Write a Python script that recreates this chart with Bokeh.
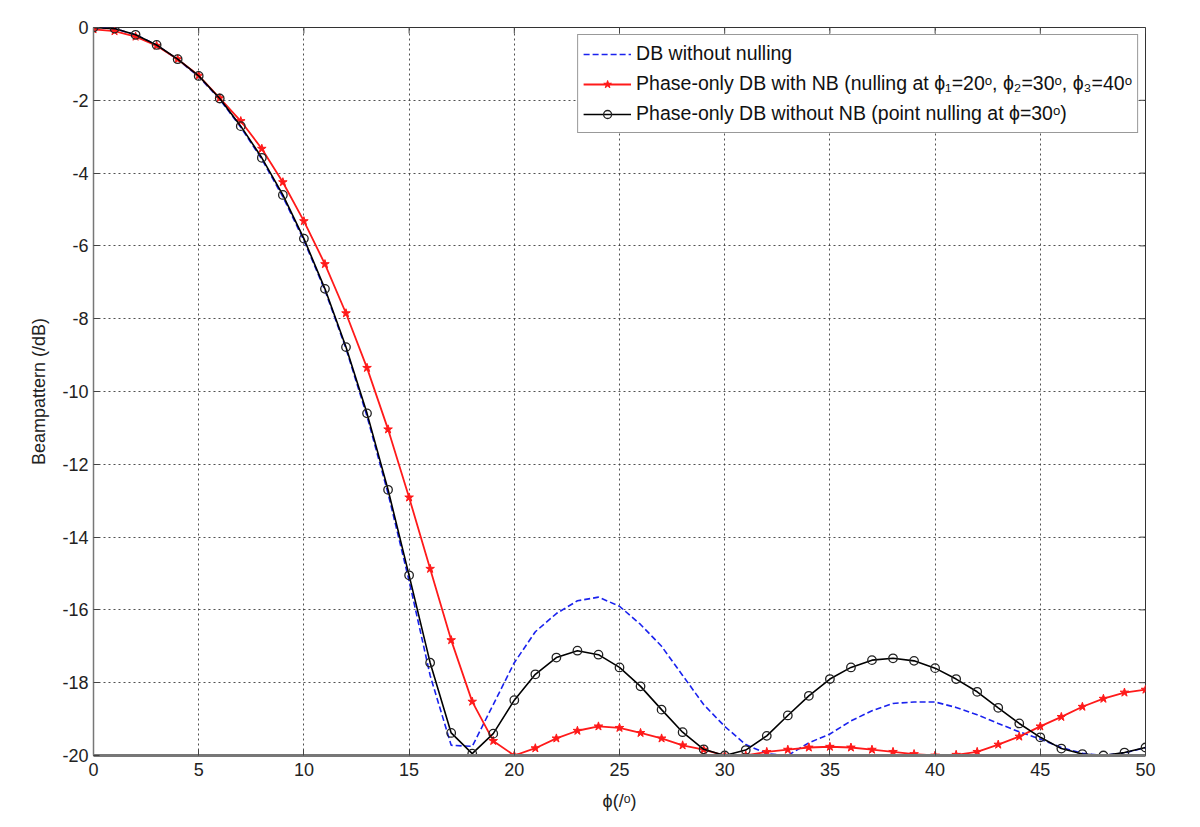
import math
from bokeh.plotting import figure
from bokeh.models import Legend, LegendItem, Range1d, FixedTicker
from bokeh.embed import file_html
from bokeh.resources import INLINE

phi = list(range(0, 51))

db_no_null = [0, -0.03, -0.2, -0.48, -0.88, -1.35, -1.97, -2.74, -3.62, -4.65,
              -5.85, -7.22, -8.82, -10.68, -12.8, -15.2, -17.8, -19.72, -19.75, -18.6,
              -17.45, -16.6, -16.1, -15.75, -15.65, -15.9, -16.4, -17.0, -17.8, -18.6,
              -19.2, -19.7, -19.95, -20.0, -19.65, -19.41, -19.05, -18.77, -18.57, -18.53,
              -18.53, -18.68, -18.88, -19.12, -19.35, -19.55, -19.78, -19.94, -20.0, -19.93,
              -19.78]

po_with_nb = [-0.05, -0.1, -0.25, -0.5, -0.87, -1.32, -1.94, -2.57, -3.33, -4.25,
              -5.32, -6.5, -7.85, -9.35, -11.04, -12.91, -14.87, -16.83, -18.52, -19.6,
              -20.0, -19.8, -19.53, -19.32, -19.2, -19.24, -19.38, -19.53, -19.72, -19.84,
              -20.0, -20.0, -19.9, -19.84, -19.78, -19.76, -19.78, -19.84, -19.9, -19.96,
              -20.0, -19.98, -19.9, -19.7, -19.48, -19.2, -18.94, -18.66, -18.44, -18.27,
              -18.19]

po_without_nb = [0, -0.03, -0.2, -0.48, -0.87, -1.33, -1.95, -2.71, -3.58, -4.6,
                 -5.8, -7.18, -8.78, -10.6, -12.7, -15.05, -17.45, -19.38, -19.95, -19.4,
                 -18.48, -17.77, -17.31, -17.12, -17.23, -17.58, -18.1, -18.74, -19.36, -19.83,
                 -20.0, -19.85, -19.46, -18.9, -18.36, -17.9, -17.58, -17.38, -17.33, -17.4,
                 -17.6, -17.9, -18.25, -18.69, -19.12, -19.5, -19.81, -19.96, -20.0, -19.92,
                 -19.78]

x_ticks = list(range(0, 51, 5))
y_ticks = list(range(-20, 1, 2))
x_min, x_max = 0, 50
y_min, y_max = -20, 0

labels = [
    "DB without nulling",
    "Phase-only DB with NB (nulling at \u03d5\u2081=20\u1d52, \u03d5\u2082=30\u1d52, \u03d5\u2083=40\u1d52",
    "Phase-only DB without NB (point nulling at \u03d5=30\u1d52)",
]

FONT = "Liberation Sans"

p = figure(width=1184, height=819, output_backend="svg", toolbar_location=None,
           x_range=Range1d(x_min, x_max), y_range=Range1d(y_min, y_max),
           min_border_left=93, min_border_right=39, min_border_top=27, min_border_bottom=64)

p.background_fill_color = "white"
p.border_fill_color = "white"
p.outline_line_color = "#333333"
p.outline_line_width = 1

for ax in (p.xaxis[0], p.yaxis[0]):
    ax.major_tick_in = 6
    ax.major_tick_out = 0
    ax.minor_tick_in = 0
    ax.minor_tick_out = 0
    ax.axis_line_color = "#777777"
    ax.major_tick_line_color = "#444444"
    ax.major_label_text_font = FONT
    ax.major_label_text_font_size = "18px"
    ax.major_label_text_color = "#222222"
    ax.axis_label_text_font = FONT
    ax.axis_label_text_font_size = "18px"
    ax.axis_label_text_font_style = "normal"
    ax.axis_label_text_color = "#222222"

p.xaxis[0].ticker = FixedTicker(ticks=x_ticks)
p.yaxis[0].ticker = FixedTicker(ticks=y_ticks)
p.yaxis[0].major_label_overrides = {t: str(t) for t in y_ticks}
p.xaxis[0].axis_line_width = 3
p.yaxis[0].axis_line_width = 1.5
p.xaxis[0].axis_label = "\u03d5(/\u1d52)"
p.yaxis[0].axis_label = "Beampattern (/dB)"
p.xaxis[0].major_label_standoff = 7
p.yaxis[0].major_label_standoff = 5
p.xaxis[0].axis_label_standoff = 12
p.yaxis[0].axis_label_standoff = 10

p.xgrid.ticker = FixedTicker(ticks=x_ticks)
p.ygrid.ticker = FixedTicker(ticks=y_ticks)
for g in (p.xgrid[0], p.ygrid[0]):
    g.grid_line_color = "#333333"
    g.grid_line_dash = "2 3"
    g.grid_line_width = 1
    g.grid_line_alpha = 0.85

# tick marks on the top and right edges of the box (half of each dash is clipped)
p.scatter(x_ticks, [y_max] * len(x_ticks), marker="dash", angle=math.pi / 2, size=12,
          line_color="#444444", line_width=1)
p.scatter([x_max] * len(y_ticks), y_ticks, marker="dash", size=12,
          line_color="#444444", line_width=1)

r_blue = p.line(phi, db_no_null, line_color="#1a22ee", line_width=1.6, line_dash="6 3")

r_red_line = p.line(phi, po_with_nb, line_color="#ff1a1a", line_width=1.8)
r_red_pts = p.scatter(phi, po_with_nb, marker="star", size=9, fill_color="#ff1a1a",
                      line_color="#ff1a1a")

r_blk_line = p.line(phi, po_without_nb, line_color="black", line_width=1.6)
r_blk_pts = p.scatter(phi, po_without_nb, marker="circle", size=8.5, fill_color=None,
                      line_color="#222222", line_width=1.3)

legend = Legend(items=[
    LegendItem(label=labels[0], renderers=[r_blue]),
    LegendItem(label=labels[1], renderers=[r_red_line, r_red_pts]),
    LegendItem(label=labels[2], renderers=[r_blk_line, r_blk_pts]),
], location="top_right")
legend.label_text_font = FONT
legend.label_text_font_size = "19.5px"
legend.label_text_color = "#111111"
legend.glyph_width = 48
legend.label_standoff = 5
legend.label_height = 27
legend.glyph_height = 20
legend.spacing = 3
legend.padding = 5
legend.margin = 7
legend.border_line_color = "#333333"
legend.border_line_width = 1.2
legend.background_fill_alpha = 1
p.add_layout(legend)

open("out.html", "w").write(file_html(p, INLINE))
